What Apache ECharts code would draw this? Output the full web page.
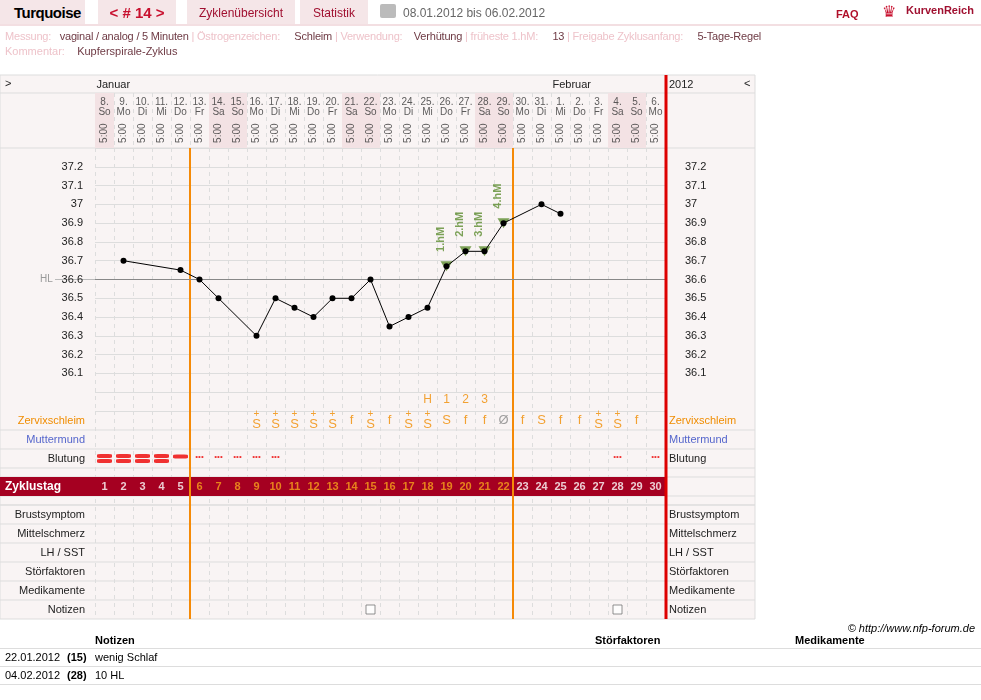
<!DOCTYPE html>
<html><head><meta charset="utf-8">
<script src="https://cdn.jsdelivr.net/npm/echarts@6/dist/echarts.min.js"></script>
<style>
body{margin:0;width:981px;height:700px;position:relative;font-family:'Liberation Sans Narrow','Liberation Sans',Arial,sans-serif;font-size:11px;background:#fff;overflow:hidden}
.a{position:absolute;white-space:nowrap}
#c{position:absolute;left:0;top:0;width:981px;height:700px}
.tab{background:#f5e6e8;height:24px;top:0;line-height:26px}
.l{color:#eec3ca}.v{color:#6e3a44}
</style></head><body>
<div id="c"></div>
<div class="a tab" style="left:0;width:85px;font-weight:bold;font-size:15px;padding-left:14px;box-sizing:border-box;letter-spacing:-0.5px">Turquoise</div>
<div class="a tab" style="left:98px;width:78px;font-weight:bold;font-size:15px;color:#c8102e;text-align:center">&lt; # 14 &gt;</div>
<div class="a tab" style="left:187px;width:108px;color:#a01030;text-align:center;font-size:12px">Zyklenübersicht</div>
<div class="a tab" style="left:300px;width:68px;color:#a01030;text-align:center;font-size:12px">Statistik</div>
<div class="a" style="left:380px;top:4px;width:16px;height:14px;background:#bbb;border-radius:2px"></div>
<div class="a" style="left:403px;top:6px;color:#666;font-size:12px">08.01.2012 bis 06.02.2012</div>
<div class="a" style="left:836px;top:8px;color:#b0102a;font-weight:bold">FAQ</div>
<div class="a" style="left:882px;top:2px;color:#c8102e;font-size:16px">♛</div>
<div class="a" style="left:906px;top:4px;color:#a01030;font-weight:bold;font-size:11px">KurvenReich</div>
<div class="a" style="left:0;top:24px;width:981px;height:2px;background:#f3dfe2"></div>
<div class="a" style="left:5px;top:30px;letter-spacing:-0.2px"><span class="l">Messung:</span>&nbsp;&nbsp; <span class="v">vaginal / analog / 5 Minuten</span> <span class="l">| Östrogenzeichen:</span>&nbsp;&nbsp;&nbsp;&nbsp; <span class="v">Schleim</span> <span class="l">| Verwendung:</span>&nbsp;&nbsp;&nbsp; <span class="v">Verhütung</span> <span class="l">| früheste 1.hM:</span>&nbsp;&nbsp;&nbsp;&nbsp; <span class="v">13</span> <span class="l">| Freigabe Zyklusanfang:</span>&nbsp;&nbsp;&nbsp;&nbsp; <span class="v">5-Tage-Regel</span></div>
<div class="a" style="left:5px;top:45px"><span class="l">Kommentar:</span>&nbsp;&nbsp;&nbsp; <span class="v">Kupferspirale-Zyklus</span></div>
<div class="a" style="right:6px;top:622px;font-style:italic;font-size:11px">© http://www.nfp-forum.de</div>
<div class="a" style="left:95px;top:634px;font-weight:bold">Notizen</div>
<div class="a" style="left:595px;top:634px;font-weight:bold">Störfaktoren</div>
<div class="a" style="left:795px;top:634px;font-weight:bold">Medikamente</div>
<div class="a" style="left:0;top:648px;width:981px;height:1px;background:#ddd"></div>
<div class="a" style="left:5px;top:651px">22.01.2012</div><div class="a" style="left:67px;top:651px;font-weight:bold">(15)</div><div class="a" style="left:95px;top:651px">wenig Schlaf</div>
<div class="a" style="left:0;top:666px;width:981px;height:1px;background:#ddd"></div>
<div class="a" style="left:5px;top:669px">04.02.2012</div><div class="a" style="left:67px;top:669px;font-weight:bold">(28)</div><div class="a" style="left:95px;top:669px">10 HL</div>
<div class="a" style="left:0;top:684px;width:981px;height:1px;background:#ddd"></div>
<script>
const cycleDays=[1,2,3,4,5,6,7,8,9,10,11,12,13,14,15,16,17,18,19,20,21,22,23,24,25,26,27,28,29,30];
const dates=['8.','9.','10.','11.','12.','13.','14.','15.','16.','17.','18.','19.','20.','21.','22.','23.','24.','25.','26.','27.','28.','29.','30.','31.','1.','2.','3.','4.','5.','6.'];
const weekdays=['So','Mo','Di','Mi','Do','Fr','Sa','So','Mo','Di','Mi','Do','Fr','Sa','So','Mo','Di','Mi','Do','Fr','Sa','So','Mo','Di','Mi','Do','Fr','Sa','So','Mo'];
const times=Array(30).fill('5:00');
const temps=[null,36.7,null,null,36.65,36.6,36.5,null,36.3,36.5,36.45,36.4,36.5,36.5,36.6,36.35,36.4,36.45,36.67,36.75,36.75,36.9,null,37.0,36.95,null,null,null,null,null];
const highDays=[19,20,21,22];const highLabels=['1.hM','2.hM','3.hM','4.hM'];
const coverLine=36.6;
const peakLabels={18:'H',19:'1',20:'2',21:'3'};
const cervix={9:'S+',10:'S+',11:'S+',12:'S+',13:'S+',14:'f',15:'S+',16:'f',17:'S+',18:'S+',19:'S',20:'f',21:'f',22:'Ø',23:'f',24:'S',25:'f',26:'f',27:'S+',28:'S+',29:'f'};
const bleedHeavy=[1,2,3,4];const bleedMedium=[5];const bleedSpot=[6,7,8,9,10,28,30];
const noteDays=[15,28];
const cycleBoundaries=[5,22];
const tempTicks=[36.1,36.2,36.3,36.4,36.5,36.6,36.7,36.8,36.9,37.0,37.1,37.2];
const rowLabels=['Zervixschleim','Muttermund','Blutung','','Zyklustag','','Brustsymptom','Mittelschmerz','LH / SST','Störfaktoren','Medikamente','Notizen'];
const rowHeights=[19,19,19,9,19,9,19,19,19,19,19,19];

const F="'Liberation Sans Narrow','Liberation Sans',Arial";
const cats=cycleDays.map(String);
const weekend=weekdays.map(w=>(w==='Sa'||w==='So')?1:0);
const rowTop=[];let acc=0;rowHeights.forEach(h=>{rowTop.push(acc);acc+=h;});
const rowC=i=>rowTop[i]+rowHeights[i]/2;
const ch=echarts.init(document.getElementById('c'));
const ax=(g,extra)=>Object.assign({type:'category',data:cats,gridIndex:g,axisLine:{show:false},axisTick:{show:false},axisLabel:{show:false},
  splitLine:{show:true,interval:0,lineStyle:{color:'#ddd',type:[4,4]}},boundaryGap:true},extra||{});
const cervixData=cycleDays.filter(d=>cervix[d]).map(d=>[d-1,rowC(0),cervix[d]]);
const opt={
 animation:false,textStyle:{fontFamily:F},
 grid:[{left:95,top:148,width:570,height:263},{left:95,top:93,width:570,height:55},{left:95,top:411,width:570,height:208}],
 xAxis:[ax(0),ax(1),ax(2)],
 yAxis:[
  {type:'value',gridIndex:0,min:35.9,max:37.3,interval:0.1,axisLine:{show:false},axisTick:{show:false},
   splitLine:{lineStyle:{color:'#ddd'}},axisLabel:{margin:12,color:'#222',fontSize:11,fontFamily:F,formatter:v=>{v=+v.toFixed(1);return tempTicks.includes(v)?String(v):'';}}},
  {type:'value',gridIndex:0,min:35.9,max:37.3,interval:0.1,position:'right',axisLine:{show:false},axisTick:{show:false},splitLine:{show:false},
   axisLabel:{margin:20,color:'#222',fontSize:11,fontFamily:F,formatter:v=>{v=+v.toFixed(1);return tempTicks.includes(v)?String(v):'';}}},
  {type:'value',gridIndex:1,min:0,max:1,show:false},
  {type:'value',gridIndex:2,min:0,max:208,inverse:true,show:false}
 ],
 series:[
  {type:'bar',xAxisIndex:1,yAxisIndex:2,data:weekend,barWidth:'100%',itemStyle:{color:'#f3e2e4'},silent:true},
  {type:'scatter',xAxisIndex:1,yAxisIndex:2,symbolSize:0,data:dates.map((d,i)=>[i,0.74,d+'\n'+weekdays[i]]),
   label:{show:true,formatter:p=>p.data[2],color:'#333',fontSize:10,lineHeight:10,fontFamily:F}},
  {type:'scatter',xAxisIndex:1,yAxisIndex:2,symbolSize:0,data:times.map((t,i)=>[i,0.27,t]),
   label:{show:true,formatter:p=>p.data[2],rotate:90,color:'#333',fontSize:10,fontFamily:F}},
  {type:'line',xAxisIndex:0,yAxisIndex:0,data:temps,connectNulls:true,symbol:'circle',symbolSize:6,
   lineStyle:{color:'#000',width:1},itemStyle:{color:'#000'},z:5,
   markLine:{silent:true,symbol:'none',label:{show:false},lineStyle:{color:'#888',type:'solid',width:1},data:[{yAxis:coverLine}]}},
  {type:'scatter',xAxisIndex:0,yAxisIndex:0,symbol:'triangle',symbolRotate:180,symbolSize:[12,10],
   itemStyle:{color:'#5d8c2f'},z:4,data:highDays.map((d,i)=>[d-1,temps[d-1],highLabels[i]]),
   label:{show:true,formatter:p=>p.data[2],rotate:90,position:'top',distance:22,color:'#5d8c2f',fontWeight:'bold',fontSize:11,fontFamily:F}},
  {type:'scatter',xAxisIndex:0,yAxisIndex:0,symbolSize:0,data:Object.keys(peakLabels).map(d=>[d-1,35.96,peakLabels[d]]),
   label:{show:true,formatter:p=>p.data[2],color:'#f08c00',fontSize:12,fontFamily:F}},
  {type:'scatter',xAxisIndex:2,yAxisIndex:3,symbolSize:0,data:cervixData,
   label:{show:true,formatter:p=>{const t=p.data[2];return t==='S+'?'{p|+}\n{s|S}':t==='Ø'?'{g|Ø}':'{s|'+t+'}';},
    rich:{p:{color:'#f08c00',fontSize:10,lineHeight:7},s:{color:'#f08c00',fontSize:13,lineHeight:12},g:{color:'#888',fontSize:13}}}},
  {type:'scatter',xAxisIndex:2,yAxisIndex:3,symbol:'roundRect',symbolSize:[15,4],itemStyle:{color:'#e00'},
   data:bleedHeavy.map(d=>[d-1,rowC(2)-2.5]).concat(bleedHeavy.map(d=>[d-1,rowC(2)+2.5]))},
  {type:'scatter',xAxisIndex:2,yAxisIndex:3,symbol:'roundRect',symbolSize:[15,4],itemStyle:{color:'#e00'},
   data:bleedMedium.map(d=>[d-1,rowC(2)-2])},
  {type:'scatter',xAxisIndex:2,yAxisIndex:3,symbolSize:0,data:bleedSpot.map(d=>[d-1,rowC(2)-2]),
   label:{show:true,formatter:'•••',color:'#e00',fontSize:8}},
  {type:'scatter',xAxisIndex:2,yAxisIndex:3,symbolSize:0,z:10,data:cycleDays.map(d=>[d-1,rowC(4),d]),
   label:{show:true,formatter:p=>p.data[2],fontWeight:'bold',fontSize:11,fontFamily:F,
    color:'#fff'}},
  {type:'scatter',xAxisIndex:2,yAxisIndex:3,symbol:'rect',symbolSize:[9,9],itemStyle:{color:'#fff',borderColor:'#777',borderWidth:1},
   data:noteDays.map(d=>[d-1,rowC(11)])}
 ]
};
opt.series[10].label.formatter=p=>{const d=p.data[2];return (d>cycleBoundaries[0]&&d<=cycleBoundaries[1])?'{o|'+d+'}':String(d);};
opt.series[10].label.rich={o:{color:'#f7a21b',fontWeight:'bold',fontSize:11,fontFamily:F}};
ch.setOption(opt);
const px=(i)=>ch.convertToPixel({xAxisIndex:0},i);
const colW=px(1)-px(0);
const xB=d=>px(d-1)+colW/2;
const yR=v=>ch.convertToPixel({yAxisIndex:3},v);
const g=[];
g.push({type:'rect',shape:{x:0,y:75,width:755,height:544},style:{fill:'#f9f4f4',stroke:'#ddd'},z:-10});
const lineH=(y,x1,x2,c)=>g.push({type:'line',shape:{x1:x1,y1:y,x2:x2,y2:y},style:{stroke:c||'#ddd'},z:1});
lineH(93,0,755);lineH(148,0,755);
rowTop.forEach((t,i)=>{if(i>0)lineH(yR(t),0,755);});
lineH(yR(rowTop[5]+rowHeights[5]),0,755);
g.push({type:'rect',shape:{x:0,y:yR(rowTop[4]),width:xB(30),height:yR(rowTop[4]+rowHeights[4])-yR(rowTop[4])},style:{fill:'#a50021'},z:2});
g.push({type:'text',x:5,y:yR(rowC(4)),style:{text:'Zyklustag',fill:'#fff',font:'bold 12px '+F,textVerticalAlign:'middle'},z:3});
rowLabels.forEach((l,i)=>{if(!l||i===4)return;const col=i===0?'#f08c00':i===1?'#5566cc':'#222';
 g.push({type:'text',x:85,y:yR(rowC(i)),style:{text:l,fill:col,font:'11px '+F,textAlign:'right',textVerticalAlign:'middle'},z:3});
 g.push({type:'text',x:669,y:yR(rowC(i)),style:{text:l,fill:col,font:'11px '+F,textVerticalAlign:'middle'},z:3});});
const yHL=ch.convertToPixel({yAxisIndex:0},coverLine);
g.push({type:'text',x:40,y:yHL,style:{text:'HL',fill:'#999',font:'10px '+F,textVerticalAlign:'middle'}});
g.push({type:'line',shape:{x1:55,y1:yHL,x2:95,y2:yHL},style:{stroke:'#bbb'}});
g.push({type:'text',x:5,y:84,style:{text:'>',fill:'#222',font:'11px '+F,textVerticalAlign:'middle'}});
g.push({type:'text',x:px(0)-8,y:85,style:{text:'Januar',fill:'#222',font:'11px '+F,textVerticalAlign:'middle'}});
g.push({type:'text',x:px(24)-8,y:85,style:{text:'Februar',fill:'#222',font:'11px '+F,textVerticalAlign:'middle'}});
g.push({type:'text',x:669,y:85,style:{text:'2012',fill:'#222',font:'11px '+F,textVerticalAlign:'middle'}});
g.push({type:'text',x:744,y:84,style:{text:'<',fill:'#222',font:'11px '+F,textVerticalAlign:'middle'}});
cycleBoundaries.forEach(d=>g.push({type:'line',shape:{x1:xB(d),y1:148,x2:xB(d),y2:619},style:{stroke:'#f58a07',lineWidth:2},z:4}));
g.push({type:'line',shape:{x1:xB(30)+1,y1:75,x2:xB(30)+1,y2:619},style:{stroke:'#d00',lineWidth:3},z:6});
ch.setOption({graphic:g});
</script></body></html>
